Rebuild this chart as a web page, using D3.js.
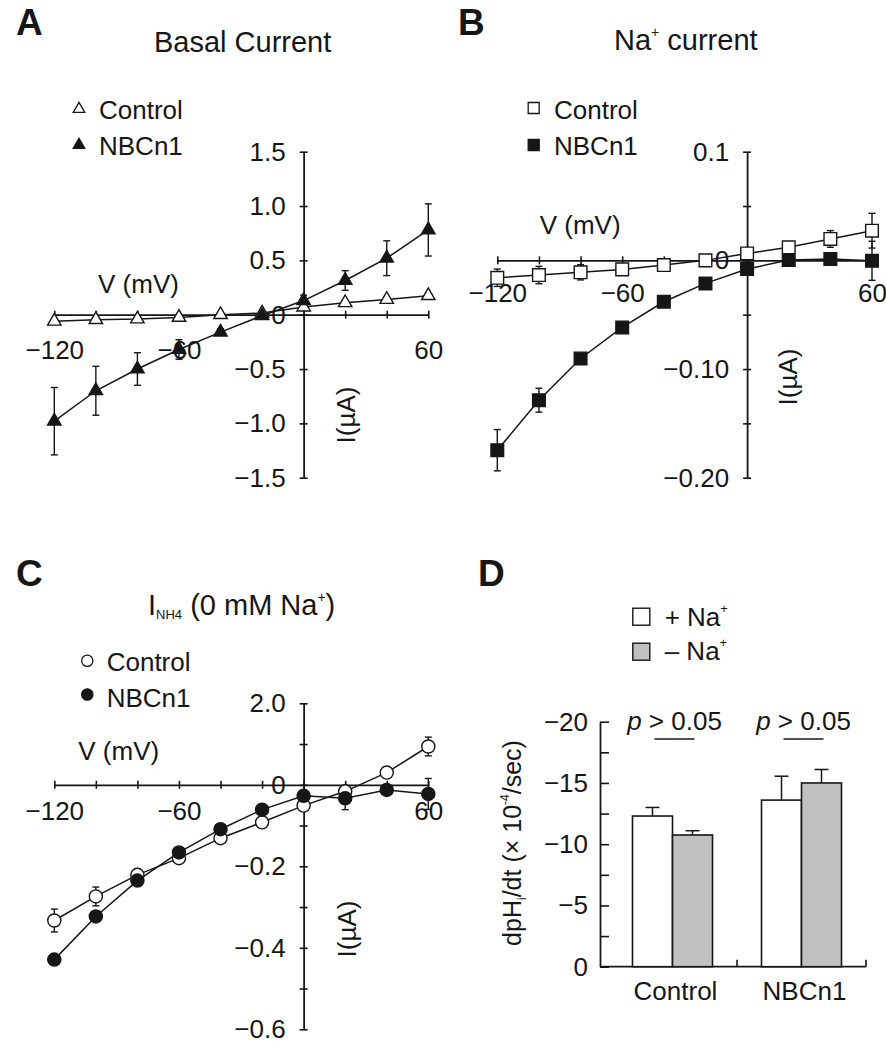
<!DOCTYPE html>
<html><head><meta charset="utf-8">
<script src="https://cdn.jsdelivr.net/npm/d3@7"></script>
<style>
body{margin:0;background:#fff}
svg{display:block}
text{font-family:'Liberation Sans',Arial,Helvetica,sans-serif;fill:#161616}
</style>
</head><body>
<svg id="c" width="886" height="1050"></svg>
<script>
// ---------------- data ----------------
const voltages = [-120, -100, -80, -60, -40, -20, 0, 20, 40, 60];
const xTickLabelValues = [-120, -60, 60];

// Panel A: Basal current (µA)
const basalControl    = [-0.06, -0.046, -0.04, -0.025, 0.0, 0.015, 0.07, 0.11, 0.14, 0.175];
const basalControlErr = [0, 0, 0, 0, 0, 0, 0, 0, 0, 0];
const basalNBCn1      = [-0.98, -0.70, -0.50, -0.32, -0.16, -0.01, 0.13, 0.315, 0.52, 0.78];
const basalNBCn1Err   = [0.31, 0.225, 0.15, 0.09, 0.03, 0.02, 0.05, 0.09, 0.16, 0.24];
const basalYTicks  = [1.5, 1.0, 0.5, 0, -0.5, -1.0, -1.5];
const basalYLabels = ["1.5", "1.0", "0.5", "0", "−0.5", "−1.0", "−1.5"];

// Panel B: Na+ current (µA)
const naControl    = [-0.016, -0.0135, -0.011, -0.0083, -0.0043, 0.0, 0.0064, 0.012, 0.0197, 0.0273];
const naControlErr = [0.008, 0.008, 0.007, 0.004, 0.002, 0.002, 0.003, 0.003, 0.0077, 0.016];
const naNBCn1      = [-0.1747, -0.1287, -0.0903, -0.0617, -0.0381, -0.0212, -0.008, 0.0003, 0.0012, -0.0004];
const naNBCn1Err   = [0.019, 0.011, 0.004, 0.003, 0.002, 0.002, 0.002, 0.002, 0.002, 0.018];
const naYTicks  = [0.1, 0.05, 0, -0.05, -0.1, -0.15, -0.2];
const naYLabels = ["0.1", "", "0", "", "−0.10", "", "−0.20"];

// Panel C: I_NH4 (0 mM Na+) (µA)
const nhControl    = [-0.333, -0.274, -0.221, -0.18, -0.131, -0.092, -0.051, -0.016, 0.030, 0.094];
const nhControlErr = [0.028, 0.023, 0.015, 0.005, 0.005, 0.005, 0.005, 0.01, 0.005, 0.023];
const nhNBCn1      = [-0.429, -0.323, -0.235, -0.166, -0.109, -0.061, -0.027, -0.033, -0.0125, -0.0225];
const nhNBCn1Err   = [0.008, 0.005, 0.005, 0.005, 0.005, 0.005, 0.005, 0.028, 0.008, 0.038];
const nhYTicks  = [0.2, 0.1, 0, -0.1, -0.2, -0.3, -0.4, -0.5, -0.6];
const nhYLabels = ["2.0", "", "0", "", "−0.2", "", "−0.4", "", "−0.6"];

// Panel D: dpHi/dt (×10^-4/sec)
const groups      = ["Control", "NBCn1"];
const conditions  = ["+Na", "-Na"];
const plusNa      = [-12.3, -13.6];
const plusNaErr   = [0.7, 1.95];
const minusNa     = [-10.75, -15.0];
const minusNaErr  = [0.35, 1.1];
const dYTicks     = [0, -2.5, -5, -7.5, -10, -12.5, -15, -17.5, -20];
const dYLabels    = ["0", "", "−5", "", "−10", "", "−15", "", "−20"];

// ---------------- drawing ----------------
const svg = d3.select("#c");
svg.append("rect").attr("width", 886).attr("height", 1050).attr("fill", "#fff");
const INK = "#161616";

function styleAxis(sel, fs) {
  sel.attr("font-family", null).attr("font-size", null);
  sel.selectAll("path.domain").attr("stroke", INK).attr("stroke-width", 1.8);
  sel.selectAll(".tick line").attr("stroke", INK).attr("stroke-width", 1.6);
  sel.selectAll(".tick text").attr("fill", INK).style("font-size", fs + "px");
}

function ivPanel(o) {
  const g = svg.append("g");
  const x = d3.scaleLinear().domain([-120, 60]).range(o.xRange);
  const y = d3.scaleLinear().domain(o.yDomain).range(o.yRange);

  const xa = g.append("g").attr("transform", `translate(0,${y(0)})`)
    .call(d3.axisBottom(x).tickValues(voltages).tickSizeInner(4).tickSizeOuter(0)
      .tickFormat(v => xTickLabelValues.includes(v) ? d3.format("d")(v) : ""));
  xa.selectAll(".tick line").attr("y1", -4);
  xa.selectAll(".tick text").attr("y", o.xLabelY).attr("dy", "0.71em");
  styleAxis(xa, 26);

  const ya = g.append("g").attr("transform", `translate(${x(0)},0)`)
    .call(d3.axisLeft(y).tickValues(o.yTicks).tickSizeInner(4).tickSizeOuter(0).tickPadding(14)
      .tickFormat((v, i) => o.yLabels[i]));
  ya.selectAll(".tick line").attr("x1", 4);
  styleAxis(ya, 26);

  const line = d3.line().x((d, i) => x(voltages[i])).y(d => y(d));
  o.series.forEach(s => {
    g.append("path").datum(s.values).attr("d", line)
      .attr("fill", "none").attr("stroke", INK).attr("stroke-width", 1.5);
  });
  o.series.forEach(s => {
    const eb = g.append("g").attr("stroke", INK).attr("stroke-width", 1.4);
    s.values.forEach((v, i) => {
      const e = s.errs[i];
      if (!e) return;
      const cx = x(voltages[i]);
      eb.append("line").attr("x1", cx).attr("x2", cx).attr("y1", y(v - e)).attr("y2", y(v + e));
      eb.append("line").attr("x1", cx - 3.5).attr("x2", cx + 3.5).attr("y1", y(v + e)).attr("y2", y(v + e));
      eb.append("line").attr("x1", cx - 3.5).attr("x2", cx + 3.5).attr("y1", y(v - e)).attr("y2", y(v - e));
    });
  });
  o.series.forEach(s => {
    g.append("g").selectAll("path").data(s.values).join("path")
      .attr("transform", (d, i) => `translate(${x(voltages[i])},${y(d)})`)
      .attr("d", d3.symbol().type(o.symbol).size(o.symbolSize))
      .attr("fill", s.fill).attr("stroke", INK).attr("stroke-width", 1.4);
  });

  // legend
  o.series.forEach((s, i) => {
    const ly = o.legend.y[i];
    g.append("path").attr("transform", `translate(${o.legend.mx},${ly})`)
      .attr("d", d3.symbol().type(o.symbol).size(o.legendSize))
      .attr("fill", s.fill).attr("stroke", INK).attr("stroke-width", 1.3);
    g.append("text").attr("x", o.legend.tx).attr("y", o.legend.base[i])
      .style("font-size", "26px").text(s.name);
  });

  // axis titles
  g.append("text").attr("x", o.vLabel[0]).attr("y", o.vLabel[1])
    .style("font-size", "26px").text("V (mV)");
  g.append("text").attr("transform", `translate(${o.iLabel[0]},${o.iLabel[1]}) rotate(-90)`)
    .attr("text-anchor", "middle").style("font-size", "26px").text("I(µA)");
}

// Panel A
ivPanel({
  xRange: [54.3, 428.3], yDomain: [-1.5, 1.5], yRange: [477.7, 151.7], xLabelY: 26,
  yTicks: basalYTicks, yLabels: basalYLabels,
  symbol: d3.symbolTriangle, symbolSize: 78, legendSize: 58,
  series: [
    {name: "Control", values: basalControl, errs: basalControlErr, fill: "#fff"},
    {name: "NBCn1", values: basalNBCn1, errs: basalNBCn1Err, fill: INK}
  ],
  legend: {mx: 79, tx: 99, y: [109, 145], base: [119, 155]},
  vLabel: [98, 293], iLabel: [355, 415]
});

// Panel B
ivPanel({
  xRange: [497.3, 872], yDomain: [-0.2, 0.1], yRange: [477.7, 151.7], xLabelY: 23,
  yTicks: naYTicks, yLabels: naYLabels,
  symbol: d3.symbolSquare, symbolSize: 160, legendSize: 121,
  series: [
    {name: "Control", values: naControl, errs: naControlErr, fill: "#fff"},
    {name: "NBCn1", values: naNBCn1, errs: naNBCn1Err, fill: INK}
  ],
  legend: {mx: 533.7, tx: 554, y: [108, 145], base: [119, 155]},
  vLabel: [539.7, 234], iLabel: [797, 377]
});

// Panel C
ivPanel({
  xRange: [54.3, 428.3], yDomain: [-0.6, 0.2], yRange: [1029.3, 703.3], xLabelY: 17,
  yTicks: nhYTicks, yLabels: nhYLabels,
  symbol: d3.symbolCircle, symbolSize: 135, legendSize: 100,
  series: [
    {name: "Control", values: nhControl, errs: nhControlErr, fill: "#fff"},
    {name: "NBCn1", values: nhNBCn1, errs: nhNBCn1Err, fill: INK}
  ],
  legend: {mx: 87.3, tx: 106.7, y: [660.7, 694.5], base: [670.5, 706.5]},
  vLabel: [78.3, 760], iLabel: [356, 929]
});

// Panel letters
[["A", 16, 35], ["B", 458, 35], ["C", 16, 586], ["D", 478, 586]].forEach(([t, x, y]) => {
  svg.append("text").attr("x", x).attr("y", y).style("font-size", "37px")
    .style("font-weight", "bold").text(t);
});

// Titles
svg.append("text").attr("x", 154).attr("y", 52).style("font-size", "29px").text("Basal Current");
{
  const t = svg.append("text").attr("x", 614).attr("y", 50).style("font-size", "29px");
  t.append("tspan").text("Na");
  t.append("tspan").attr("dy", -13).style("font-size", "14px").text("+");
  t.append("tspan").attr("dy", 13).text(" current");
}
{
  const t = svg.append("text").attr("x", 148).attr("y", 615).style("font-size", "29px");
  t.append("tspan").text("I");
  t.append("tspan").attr("dy", 4).style("font-size", "13px").text("NH4");
  t.append("tspan").attr("dy", -4).text(" (0 mM Na");
  t.append("tspan").attr("dy", -13).style("font-size", "14px").text("+");
  t.append("tspan").attr("dy", 13).text(")");
}

// Panel D bar chart
{
  const g = svg.append("g");
  const y = d3.scaleLinear().domain([0, -20]).range([966.7, 721.7]);
  const x = d3.scaleBand().domain(groups).range([608, 866]).padding(0);
  const xs = d3.scaleBand().domain(conditions)
    .range([x.bandwidth() / 2 - 40, x.bandwidth() / 2 + 40]).padding(0);
  const axisX0 = 600;

  const ya = g.append("g").attr("transform", `translate(${axisX0},0)`)
    .call(d3.axisLeft(y).tickValues(dYTicks).tickSizeInner(-9).tickSizeOuter(0).tickPadding(12)
      .tickFormat((v, i) => dYLabels[i]));
  styleAxis(ya, 26);

  // x axis baseline with boundary ticks
  g.append("line").attr("x1", axisX0).attr("x2", x.range()[1]).attr("y1", y(0)).attr("y2", y(0))
    .attr("stroke", INK).attr("stroke-width", 1.8);
  groups.forEach(gr => {
    const bx = x(gr) + x.bandwidth();
    g.append("line").attr("x1", bx).attr("x2", bx).attr("y1", y(0)).attr("y2", y(0) - 7)
      .attr("stroke", INK).attr("stroke-width", 1.6);
  });

  const series = [
    {key: "+Na", vals: plusNa, errs: plusNaErr, fill: "#fff"},
    {key: "-Na", vals: minusNa, errs: minusNaErr, fill: "#c0c0c0"}
  ];
  series.forEach(s => {
    groups.forEach((gr, i) => {
      const bx = x(gr) + xs(s.key);
      const v = s.vals[i], e = s.errs[i];
      const cx = bx + xs.bandwidth() / 2;
      g.append("line").attr("x1", cx).attr("x2", cx).attr("y1", y(v)).attr("y2", y(v - e))
        .attr("stroke", INK).attr("stroke-width", 1.5);
      g.append("line").attr("x1", cx - 7).attr("x2", cx + 7).attr("y1", y(v - e)).attr("y2", y(v - e))
        .attr("stroke", INK).attr("stroke-width", 1.5);
      g.append("rect").attr("x", bx).attr("y", y(v)).attr("width", xs.bandwidth())
        .attr("height", y(0) - y(v)).attr("fill", s.fill).attr("stroke", INK).attr("stroke-width", 1.6);
    });
  });

  // category labels
  groups.forEach(gr => {
    g.append("text").attr("x", x(gr) + x.bandwidth() / 2 + 3).attr("y", 1000)
      .attr("text-anchor", "middle").style("font-size", "26px").text(gr);
  });

  // p-value annotations
  groups.forEach(gr => {
    const cx = x(gr) + x.bandwidth() / 2 + 2;
    const t = g.append("text").attr("x", cx).attr("y", 730).attr("text-anchor", "middle")
      .style("font-size", "26px");
    t.append("tspan").style("font-style", "italic").text("p");
    t.append("tspan").text(" > 0.05");
    g.append("line").attr("x1", cx - 20).attr("x2", cx + 20).attr("y1", 739).attr("y2", 739)
      .attr("stroke", INK).attr("stroke-width", 1.5);
  });

  // legend
  [["+ Na", "#fff", 616.7, 625.7], ["– Na", "#c0c0c0", 651.7, 660]].forEach(([lab, f, cy, base]) => {
    g.append("rect").attr("x", 641.3 - 8.5).attr("y", cy - 8.5).attr("width", 17).attr("height", 17)
      .attr("fill", f).attr("stroke", INK).attr("stroke-width", 1.4);
    const t = g.append("text").attr("x", 664.7).attr("y", base).style("font-size", "26px");
    t.append("tspan").text(lab);
    t.append("tspan").attr("dy", -13).style("font-size", "13px").text("+");
  });

  // y-axis title
  const t = g.append("text").attr("transform", "translate(521,843) rotate(-90)")
    .attr("text-anchor", "middle").style("font-size", "25px");
  t.append("tspan").text("dpH");
  t.append("tspan").attr("dy", 5).style("font-size", "12px").text("i");
  t.append("tspan").attr("dy", -5).text("/dt (× 10");
  t.append("tspan").attr("dy", -12).style("font-size", "12px").text("-4");
  t.append("tspan").attr("dy", 12).text("/sec)");
}
</script>
</body></html>
